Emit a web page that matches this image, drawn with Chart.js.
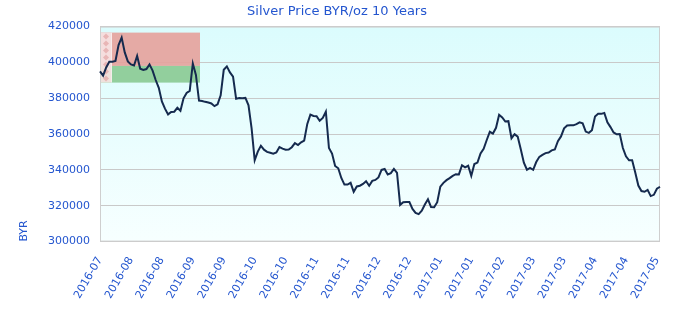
<!DOCTYPE html>
<html><head><meta charset="utf-8">
<script src="https://cdn.jsdelivr.net/npm/chart.js@4.4.0/dist/chart.umd.min.js"></script>
<style>html,body{margin:0;padding:0;background:#fff}</style>
</head><body>
<canvas id="c" width="680" height="320"></canvas>
<script>
const chartTitle = 'Silver Price BYR/oz 10 Years';
const yAxisTitle = 'BYR';
const tickLabels = ['2016-07','2016-08','2016-08','2016-09','2016-09','2016-10','2016-10','2016-11','2016-11','2016-12','2016-12','2017-01','2017-01','2017-02','2017-03','2017-03','2017-04','2017-04','2017-05'];
const labelEvery = 10;
const prices = [
395000,392600,397200,400400,400400,400800,409700,413900,405600,400600,
398900,398300,403600,396500,395800,396300,398900,395400,390200,385800,
378200,374200,371000,372400,372500,374700,373000,380000,383000,384100,
399400,393000,378700,378500,378000,377600,377100,375600,376600,381600,
395900,397800,394400,392100,379700,380100,380000,380200,376100,363200,
345400,350200,353500,351300,350100,349600,349100,349700,352800,351900,
351300,351400,352700,355000,353900,355400,356400,365700,370900,370100,
370000,367400,369000,372500,352200,349100,342200,340900,335500,331800,
331800,332800,327800,330800,331200,332200,333700,331200,333900,334400,
335800,340000,340500,337500,338200,340600,338400,320500,322000,322100,
322100,318200,316000,315300,317200,320700,323600,319300,319200,322000,
330700,332800,334300,335400,336700,337600,337500,342600,341400,342300,
336700,343300,344100,349200,351800,356700,361300,360300,363500,370800,
369300,367000,367200,357700,360000,358600,351500,344000,340100,341100,
340100,344400,347300,348400,349400,349700,350900,351400,356100,358700,
363200,364800,365000,364900,365600,366600,366000,361400,360700,362200,
369800,371300,371300,371800,366600,363900,360900,359900,360000,352200,
347600,345400,345400,338600,331300,328200,327800,328900,325400,326100,
329500,330600
];
const yMin = 300000, yMax = 420000, yStep = 20000;

const blue = '#2456cf';
const pointLabels = prices.map((p, i) => (i % labelEvery === 0 ? tickLabels[i / labelEvery] : ''));

const decor = {
  id: 'decor',
  beforeDraw(chart) {
    const { ctx, chartArea: a } = chart;
    const g = ctx.createLinearGradient(0, a.top, 0, a.bottom);
    g.addColorStop(0, 'rgb(219,252,253)');
    g.addColorStop(1, 'rgb(247,255,255)');
    ctx.save();
    ctx.fillStyle = g;
    ctx.fillRect(a.left, a.top, a.right - a.left, a.bottom - a.top);
    ctx.restore();
  },
  beforeDatasetsDraw(chart) {
    const { ctx, chartArea: a } = chart;
    const fx = a.left + 1, fy = a.top + 6, fw = 99, fh = 50;
    ctx.save();
    ctx.globalAlpha = 0.93;
    ctx.fillStyle = 'rgb(229,164,158)';
    ctx.fillRect(fx, fy, fw, fh * 2 / 3);
    ctx.fillStyle = 'rgb(140,203,150)';
    ctx.fillRect(fx, fy + fh * 2 / 3, fw, fh / 3);
    ctx.fillStyle = 'rgb(246,226,226)';
    ctx.fillRect(fx, fy, 10, fh);
    ctx.fillStyle = 'rgba(225,160,160,0.7)';
    for (let k = 0; k < 7; k++) {
      const cy = fy + 4 + k * 7;
      ctx.beginPath();
      ctx.moveTo(fx + 5, cy - 3);
      ctx.lineTo(fx + 8, cy);
      ctx.lineTo(fx + 5, cy + 3);
      ctx.lineTo(fx + 2, cy);
      ctx.closePath();
      ctx.fill();
    }
    ctx.fillStyle = 'rgb(250,240,240)';
    ctx.fillRect(fx + 10, fy, 1, fh);
    ctx.restore();
    ctx.save();
    ctx.strokeStyle = '#cfcfcf';
    ctx.lineWidth = 1;
    ctx.strokeRect(a.left + 0.5, a.top + 0.5, a.right - a.left - 1, a.bottom - a.top - 1);
    ctx.restore();
  }
};

new Chart(document.getElementById('c'), {
  type: 'line',
  data: {
    labels: pointLabels,
    datasets: [{
      data: prices,
      borderColor: '#152a4e',
      borderWidth: 2,
      pointRadius: 0,
      tension: 0,
      fill: false
    }]
  },
  options: {
    responsive: false,
    animation: false,
    devicePixelRatio: 1,
    layout: { padding: { left: 14, right: 20, top: 0, bottom: 14 } },
    plugins: {
      legend: { display: false },
      tooltip: { enabled: false },
      title: {
        display: true,
        text: chartTitle,
        color: blue,
        font: { family: 'DejaVu Sans', size: 13, weight: 'normal' },
        padding: { top: 4, bottom: 7 }
      }
    },
    scales: {
      x: {
        grid: { display: false, drawTicks: true, tickLength: 8 },
        border: { display: false },
        ticks: {
          autoSkip: false,
          minRotation: 60,
          maxRotation: 60,
          color: blue,
          padding: 5,
          font: { family: 'DejaVu Sans', size: 11 },
          callback: (v, i) => pointLabels[i]
        }
      },
      y: {
        min: yMin,
        max: yMax,
        afterFit(scale) { scale.width = 86; },
        grid: { color: '#c9c9c9', drawTicks: false },
        border: { display: false },
        title: {
          display: true,
          text: yAxisTitle,
          align: 'start',
          color: blue,
          font: { family: 'DejaVu Sans', size: 11 },
          padding: { top: 4, bottom: 4 }
        },
        ticks: {
          stepSize: yStep,
          color: blue,
          padding: 10,
          font: { family: 'DejaVu Sans', size: 11 },
          callback: (v) => String(v)
        }
      }
    }
  },
  plugins: [decor]
});
</script>
</body></html>
